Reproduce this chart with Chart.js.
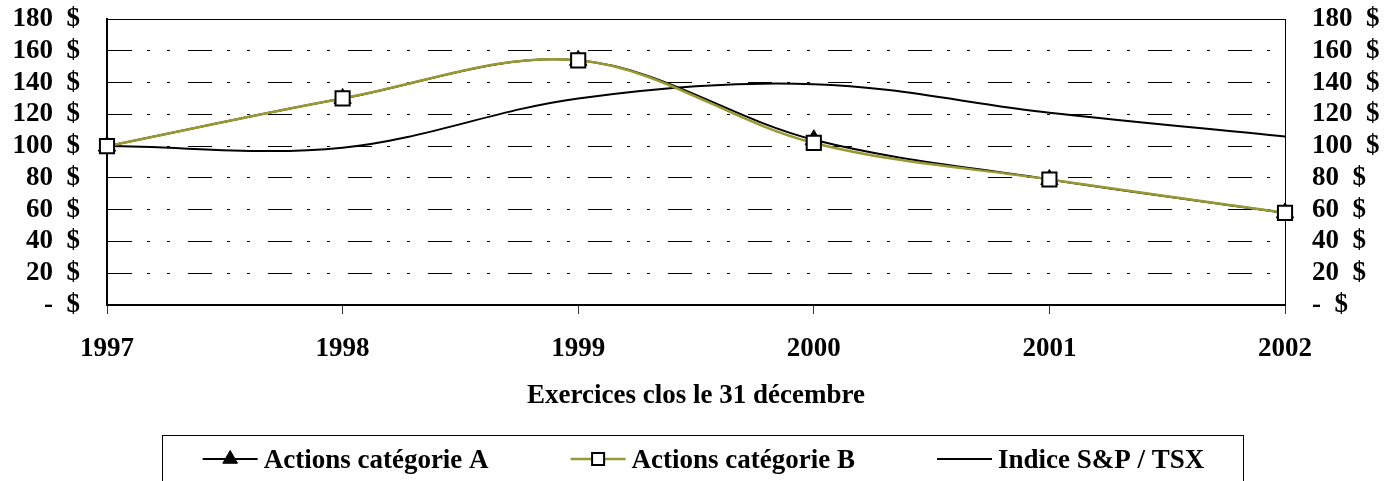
<!DOCTYPE html>
<html>
<head>
<meta charset="utf-8">
<script src="https://cdn.jsdelivr.net/npm/chart.js@4/dist/chart.umd.min.js"></script>
<style>
html, body { margin: 0; padding: 0; background: #fff; }
</style>
</head>
<body>
<canvas id="graphique" width="1397" height="481"></canvas>
<script>
// valeurs (base 100 $ en 1997)
var annees = ['1997', '1998', '1999', '2000', '2001', '2002'];
var actionsA = [100, 130, 154, 104, 79, 58];
var actionsB = [100, 130, 154, 102, 79, 58];
var indiceTSX = [100, 99, 130, 139, 121, 106];
var yMin = 0, yMax = 180, yPas = 20;

var police = '"Liberation Serif", "Times New Roman", serif';
Chart.defaults.font.family = police;
Chart.defaults.font.weight = 'bold';
Chart.defaults.font.size = 27;
Chart.defaults.color = '#000';

function etiquetteDollar(v) {
    if (v === 0) return '-\u00a0\u00a0$';
    return v + '\u00a0\u00a0$';
}

// largeur fixe des axes Y, sans marge haute/basse ajoutée par le padding des ticks
function axeFixe(largeur) {
    return function(scale) {
        scale.width = largeur;
        scale.paddingTop = 0;
        scale.paddingBottom = 0;
    };
}

// cadre de la zone de tracé
var cadreZone = {
    id: 'cadreZone',
    beforeDatasetsDraw: function(chart) {
        var ctx = chart.ctx, a = chart.chartArea;
        ctx.save();
        ctx.strokeStyle = '#000';
        ctx.lineWidth = 1;
        ctx.strokeRect(a.left + 0.5, a.top + 0.5, a.right - a.left, a.bottom - a.top);
        ctx.restore();
    }
};

// légende façon Excel : trait + marqueur, dans un cadre
var legendeExcel = {
    id: 'legendeExcel',
    afterDraw: function(chart) {
        var ctx = chart.ctx;
        var ds = chart.data.datasets;
        var largSymb = 55, ecartTexte = 6, ecartItem = 82;
        ctx.save();
        ctx.font = 'bold 27px ' + police;
        var larg = ds.map(function(d) { return ctx.measureText(d.label).width; });
        var total = larg.reduce(function(a, b) { return a + b; }, 0) + ds.length * (largSymb + ecartTexte) + (ds.length - 1) * ecartItem;
        var x = (chart.width - total) / 2 + 5;
        var debut = x;
        var yLigne = chart.height - 22, yTexte = chart.height - 13;
        ds.forEach(function(d, i) {
            ctx.strokeStyle = d.borderColor;
            ctx.lineWidth = d.borderWidth;
            ctx.setLineDash([]);
            ctx.beginPath();
            ctx.moveTo(x, yLigne);
            ctx.lineTo(x + largSymb, yLigne);
            ctx.stroke();
            if (d.pointRadius > 0) {
                ctx.fillStyle = d.pointBackgroundColor;
                ctx.strokeStyle = d.pointBorderColor;
                ctx.lineWidth = d.pointBorderWidth;
                Chart.helpers.drawPoint(ctx, {pointStyle: d.pointStyle, radius: 8.5, borderWidth: d.pointBorderWidth, rotation: 0}, x + largSymb / 2, yLigne);
            }
            ctx.fillStyle = '#000';
            ctx.textAlign = 'left';
            ctx.textBaseline = 'alphabetic';
            ctx.fillText(d.label, x + largSymb + ecartTexte, yTexte);
            x += largSymb + ecartTexte + larg[i] + ecartItem;
        });
        var fin = x - ecartItem;
        ctx.strokeStyle = '#000';
        ctx.lineWidth = 1;
        ctx.strokeRect(Math.round(debut - 41) + 0.5, chart.height - 45.5, Math.round(fin - debut + 79), 60);
        ctx.restore();
    }
};

var ctx = document.getElementById('graphique').getContext('2d');
var graphique = new Chart(ctx, {
    type: 'line',
    data: {
        labels: annees,
        datasets: [
            {
                label: 'Actions catégorie A',
                data: actionsA,
                yAxisID: 'y',
                borderColor: '#000',
                borderWidth: 2,
                pointStyle: 'triangle',
                pointRadius: 10,
                pointBackgroundColor: '#000',
                pointBorderColor: '#000',
                pointBorderWidth: 1,
                tension: 0.35,
                clip: false,
                order: 2
            },
            {
                label: 'Actions catégorie B',
                data: actionsB,
                yAxisID: 'y',
                borderColor: '#999933',
                borderWidth: 2.5,
                pointStyle: 'rect',
                pointRadius: 10,
                pointBackgroundColor: '#fff',
                pointBorderColor: '#000',
                pointBorderWidth: 2,
                tension: 0.35,
                clip: false,
                order: 1
            },
            {
                label: 'Indice S&P / TSX',
                data: indiceTSX,
                yAxisID: 'y',
                borderColor: '#000',
                borderWidth: 2,
                pointRadius: 0,
                tension: 0.35,
                clip: false,
                order: 3
            }
        ]
    },
    options: {
        responsive: false,
        animation: false,
        devicePixelRatio: 1,
        layout: { padding: { top: 19, bottom: 66, left: 0, right: 0 } },
        plugins: {
            legend: { display: false },
            tooltip: { enabled: false }
        },
        scales: {
            x: {
                offset: false,
                afterFit: function(scale) { scale.height = 110; },
                grid: { display: true, drawOnChartArea: false, drawTicks: true, tickLength: 9, color: '#333', lineWidth: 1 },
                border: { display: true, color: '#000', width: 2 },
                ticks: { padding: 19, maxRotation: 0, autoSkip: false, color: '#000' },
                title: {
                    display: true,
                    text: 'Exercices clos le 31 décembre',
                    color: '#000',
                    padding: { top: 0, bottom: 3 }
                }
            },
            y: {
                position: 'left',
                min: yMin,
                max: yMax,
                afterFit: axeFixe(107),
                grid: { color: '#000', lineWidth: 1, drawTicks: false },
                border: { display: true, color: '#000', width: 2, dash: [24, 15, 3, 17, 3, 18] },
                ticks: { stepSize: yPas, padding: 27, autoSkip: false, color: '#000', callback: etiquetteDollar }
            },
            y2: {
                position: 'right',
                min: yMin,
                max: yMax,
                afterFit: axeFixe(112),
                grid: { display: false, drawTicks: false },
                border: { display: true, color: '#444', width: 1 },
                ticks: { stepSize: yPas, padding: 27, autoSkip: false, color: '#000', callback: etiquetteDollar }
            }
        }
    },
    plugins: [cadreZone, legendeExcel]
});
</script>
</body>
</html>
